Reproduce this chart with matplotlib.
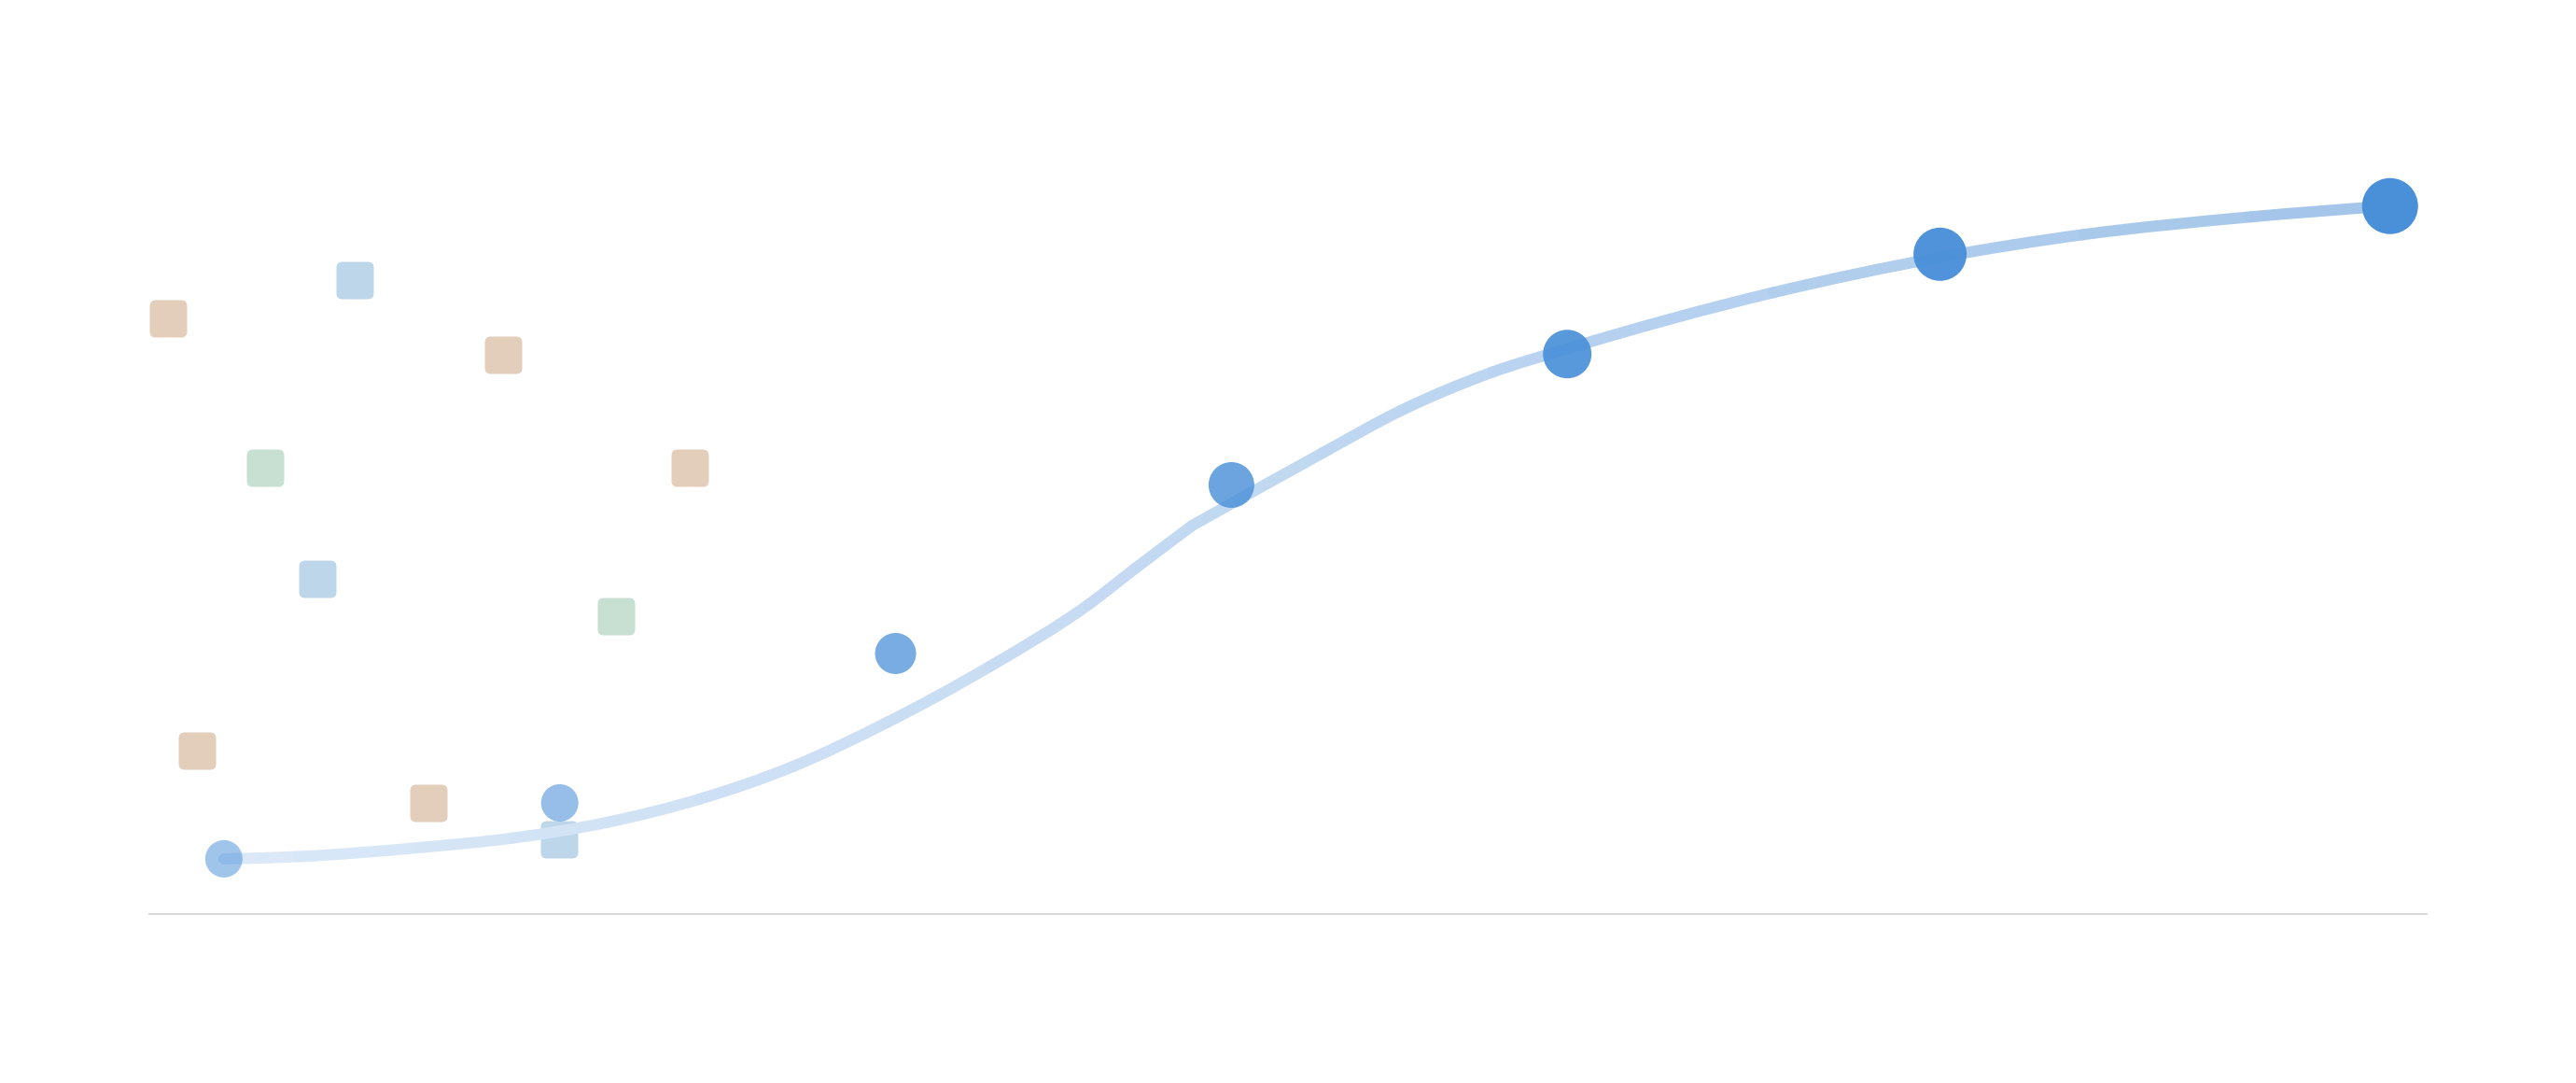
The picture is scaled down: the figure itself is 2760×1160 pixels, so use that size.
import numpy as np
import matplotlib
matplotlib.use('Agg')
import matplotlib.pyplot as plt
from matplotlib.colors import to_rgb
from matplotlib.patches import FancyBboxPatch, PathPatch
from matplotlib.path import Path

# main series (circles), sizes grow along x
circle_x = [1.0, 2.0, 3.0, 4.0, 5.0, 6.11, 7.45]
circle_y = [7.8, 15.7, 36.8, 60.6, 79.1, 93.2, 100.0]
circle_alpha = [0.52, 0.58, 0.74, 0.82, 0.92, 0.97, 1.0]
circle_diam_px = [40, 40, 44, 49, 52, 57, 60]

# trend curve (two pieces meeting at a small bend)
trend_x = [1.000, 1.222, 1.584, 1.862, 2.140, 2.417, 2.695, 2.973, 3.279, 3.576,
           3.715, 3.882, 4.271, 4.502, 4.780, 5.002, 5.614, 6.114, 6.536, 7.034,
           7.448]
trend_y = [7.78, 8.11, 9.39, 10.74, 12.94, 16.24, 20.85, 27.02, 34.93, 43.77,
           48.87, 54.84, 65.12, 71.05, 76.59, 79.88, 87.79, 92.80, 95.97, 98.47,
           100.05]
trend_bend = 11  # index where the curve bends

# background squares, three groups
tan_x = [0.833, 1.832, 2.388, 0.921, 1.610]
tan_y = [84.2, 79.0, 63.1, 23.1, 15.7]
blue_x = [1.389, 1.278, 1.999]
blue_y = [89.5, 47.4, 10.5]
green_x = [1.122, 2.167]
green_y = [63.1, 42.1]

dpi = 200
fig = plt.figure(figsize=(2760 / dpi, 1160 / dpi), dpi=dpi)
fig.patch.set_facecolor('white')
ax = fig.add_axes([160 / 2760, 181 / 1160, 2440 / 2760, 872 / 1160])
ax.set_xlim(0.778, 7.559)
ax.set_ylim(0, 115)

px2pt = 72 / dpi

# rounded square marker
sq_path = FancyBboxPatch((-0.5, -0.5), 1, 1,
                         boxstyle='round,pad=0,rounding_size=0.16').get_path()
sq_size = (40 * px2pt) ** 2
ax.scatter(tan_x, tan_y, marker=sq_path, s=sq_size, color='#E3CEBB', linewidths=0, zorder=2)
ax.scatter(blue_x, blue_y, marker=sq_path, s=sq_size, color='#BED6EA', linewidths=0, zorder=2)
ax.scatter(green_x, green_y, marker=sq_path, s=sq_size, color='#C8E0D1', linewidths=0, zorder=2)


# smooth gradient trend line: cubic bezier per gap (hermite in x),
# colour shifts along x
def slopes(x, y):
    h = np.diff(x)
    d = np.diff(y) / h
    s = np.empty_like(y)
    s[0], s[-1] = d[0], d[-1]
    s[1:-1] = (d[:-1] * h[1:] + d[1:] * h[:-1]) / (h[:-1] + h[1:])
    return s


tx = np.array(trend_x)
ty = np.array(trend_y)
c0 = np.array(to_rgb('#DCE9F8'))
c1 = np.array(to_rgb('#A3C5EA'))
codes = [Path.MOVETO, Path.CURVE4, Path.CURVE4, Path.CURVE4]
for sl in (slice(0, trend_bend + 1), slice(trend_bend, None)):
    px, py = tx[sl], ty[sl]
    s = slopes(px, py)
    for i in range(len(px) - 1):
        h = px[i + 1] - px[i]
        verts = [(px[i], py[i]),
                 (px[i] + h / 3, py[i] + s[i] * h / 3),
                 (px[i + 1] - h / 3, py[i + 1] - s[i + 1] * h / 3),
                 (px[i + 1], py[i + 1])]
        t = ((px[i] + px[i + 1]) / 2 - tx[0]) / (tx[-1] - tx[0])
        ax.add_patch(PathPatch(Path(verts, codes), facecolor='none',
                               edgecolor=tuple(c0 + (c1 - c0) * t),
                               linewidth=12 * px2pt, capstyle='round', zorder=3))

# circles
base = to_rgb('#4A90D9')
ax.scatter(circle_x, circle_y,
           s=[(d * px2pt) ** 2 for d in circle_diam_px],
           color=[base + (a,) for a in circle_alpha],
           linewidths=0, zorder=4)

for side in ['top', 'right', 'left']:
    ax.spines[side].set_visible(False)
ax.spines['bottom'].set_color('#D9D9D9')
ax.spines['bottom'].set_linewidth(2 * px2pt)
ax.set_xticks([])
ax.set_yticks([])

fig.savefig('out.png', dpi=dpi, facecolor='white')
